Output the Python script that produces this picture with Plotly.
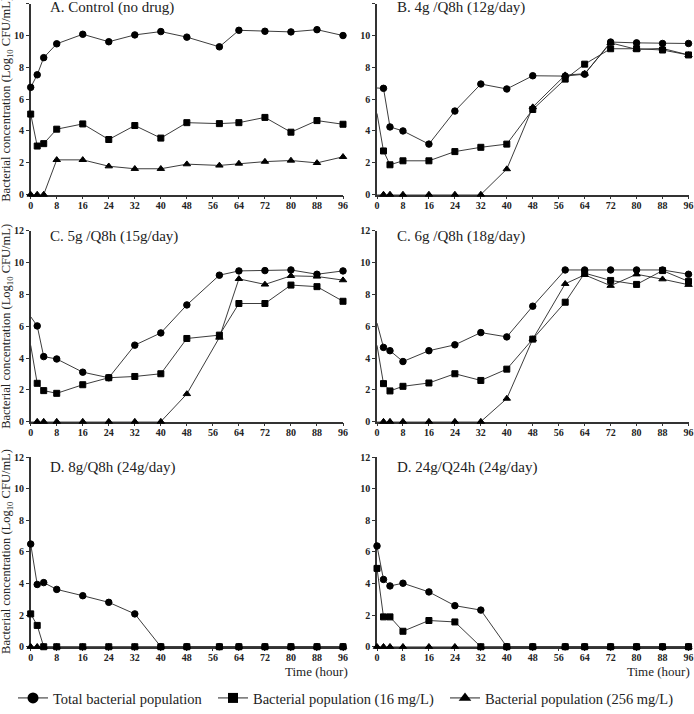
import plotly.graph_objects as go

# ---------------- data ----------------
times = [0, 2, 4, 8, 16, 24, 32, 40, 48, 58, 64, 72, 80, 88, 96]
x_ticks = [0, 8, 16, 24, 32, 40, 48, 56, 64, 72, 80, 88, 96]
y_ticks = [0, 2, 4, 6, 8, 10, 12]

panel_titles = ["A. Control (no drug)", "B. 4g /Q8h (12g/day)",
                "C. 5g /Q8h (15g/day)", "C. 6g /Q8h (18g/day)",
                "D. 8g/Q8h (24g/day)", "D. 24g/Q24h (24g/day)"]

series_names = ["Total bacterial population",
                "Bacterial population (16 mg/L)",
                "Bacterial population (256 mg/L)"]

# A. Control
a_total = [6.74, 7.53, 8.61, 9.48, 10.08, 9.61, 10.04, 10.25, 9.90, 9.29, 10.33, 10.27, 10.23, 10.37, 10.00]
a_16 = [5.06, 3.05, 3.20, 4.11, 4.44, 3.46, 4.34, 3.55, 4.52, 4.46, 4.52, 4.85, 3.92, 4.65, 4.42]
a_256 = [0, 0, 0, 2.18, 2.18, 1.78, 1.62, 1.62, 1.91, 1.83, 1.95, 2.07, 2.14, 1.99, 2.37]

# B. 4g/Q8h
b_total = [6.70, 6.68, 4.25, 4.00, 3.17, 5.25, 6.95, 6.64, 7.47, 7.45, 7.57, 9.59, 9.54, 9.50, 9.50]
b_16 = [5.10, 2.74, 1.87, 2.12, 2.12, 2.70, 2.97, 3.17, 5.35, 7.26, 8.20, 9.17, 9.17, 9.09, 8.78]
b_256 = [0, 0, 0, 0, 0, 0, 0, 1.60, 5.50, 7.51, 7.60, 9.54, 9.13, 9.19, 8.78]

# C. 5g/Q8h
c5_total = [6.60, 6.02, 4.09, 3.94, 3.11, 2.76, 4.81, 5.58, 7.34, 9.21, 9.48, 9.50, 9.54, 9.27, 9.48]
c5_16 = [4.80, 2.41, 1.95, 1.78, 2.32, 2.76, 2.84, 3.01, 5.23, 5.44, 7.43, 7.43, 8.59, 8.49, 7.57]
c5_256 = [0, 0, 0, 0, 0, 0, 0, 0, 1.74, 5.29, 8.98, 8.63, 9.17, 9.13, 8.90]

# C. 6g/Q8h
c6_total = [6.20, 4.67, 4.46, 3.78, 4.46, 4.83, 5.60, 5.33, 7.26, 9.54, 9.54, 9.54, 9.54, 9.54, 9.27]
c6_16 = [4.80, 2.39, 1.93, 2.22, 2.43, 3.01, 2.59, 3.30, 5.19, 7.51, 9.34, 8.88, 8.63, 9.50, 8.82]
c6_256 = [0, 0, 0, 0, 0, 0, 0, 1.45, 5.19, 8.67, 9.23, 8.55, 9.27, 8.96, 8.61]

# D. 8g/Q8h
d8_total = [6.50, 3.94, 4.06, 3.63, 3.23, 2.81, 2.08, 0, 0, 0, 0, 0, 0, 0, 0]
d8_16 = [2.08, 1.35, 0, 0, 0, 0, 0, 0, 0, 0, 0, 0, 0, 0, 0]
d8_256 = [0, 0, 0, 0, 0, 0, 0, 0, 0, 0, 0, 0, 0, 0, 0]

# D. 24g/Q24h
d24_total = [6.38, 4.26, 3.85, 4.02, 3.47, 2.60, 2.32, 0, 0, 0, 0, 0, 0, 0, 0]
d24_16 = [4.96, 1.89, 1.89, 0.98, 1.66, 1.57, 0, 0, 0, 0, 0, 0, 0, 0, 0]
d24_256 = [0, 0, 0, 0, 0, 0, 0, 0, 0, 0, 0, 0, 0, 0, 0]

panels = [(a_total, a_16, a_256), (b_total, b_16, b_256),
          (c5_total, c5_16, c5_256), (c6_total, c6_16, c6_256),
          (d8_total, d8_16, d8_256), (d24_total, d24_16, d24_256)]
show_first_marker = [True, False, False, False, True, True]

# ---------------- layout geometry (pixels) ----------------
W, H = 694, 714
col_px = [(30.7, 343.0), (377.0, 688.5)]
row_px = [(197.0, 3.8), (427.0, 233.8), (655.0, 463.0)]  # (y of 0, y of 12)
title_y_px = [8, 240, 473.5]
ytitle_y_px = [101, 331, 559]

FONT = "Liberation Serif"
LINE_C = "#262626"
MARK_C = "#000000"
AX_C = "#333333"

symbols = ["circle", "triangle-up", "square"]
sizes = [6.5, 6.5, 6]
leg_sizes = [11, 11, 10]
order = [0, 2, 1]  # draw total, then 256, then 16 (squares on top)
legends = ["legend", "legend3", "legend2"]

fig = go.Figure()

for p, data in enumerate(panels):
    n = p + 1
    xa = "x" if n == 1 else f"x{n}"
    ya = "y" if n == 1 else f"y{n}"
    for k, si in enumerate(order):
        vals = data[si]
        msz = [sizes[k]] * len(vals)
        mlw = [1.0] * len(vals)
        if not show_first_marker[p]:
            msz[0] = 0
            mlw[0] = 0
        fig.add_trace(go.Scatter(
            x=times, y=vals, xaxis=xa, yaxis=ya,
            mode="lines+markers",
            name=series_names[si],
            line=dict(color=LINE_C, width=0.9),
            marker=dict(symbol=symbols[k], size=msz, color=MARK_C,
                        opacity=1, line=dict(width=mlw, color=MARK_C)),
            cliponaxis=False,
            showlegend=False,
        ))

# legend-only entries
for k, si in enumerate(order):
    fig.add_trace(go.Scatter(
        x=[None], y=[None], mode="lines+markers", name=series_names[si],
        line=dict(color=LINE_C, width=1),
        marker=dict(symbol=symbols[k], size=leg_sizes[k], color=MARK_C,
                    line=dict(width=0)),
        showlegend=True, legend=legends[k],
    ))

layout = dict(
    width=W, height=H,
    margin=dict(l=0, r=0, t=0, b=0),
    paper_bgcolor="white", plot_bgcolor="white",
    font=dict(family=FONT, color="#222"),
    annotations=[],
)

for p in range(6):
    n = p + 1
    r, c = divmod(p, 2)
    x0, x1 = col_px[c]
    y0, y12 = row_px[r]
    xkey = "xaxis" if n == 1 else f"xaxis{n}"
    ykey = "yaxis" if n == 1 else f"yaxis{n}"
    layout[xkey] = dict(
        domain=[x0 / W, x1 / W], range=[0, 96],
        anchor="y" if n == 1 else f"y{n}",
        tickmode="array", tickvals=x_ticks, ticktext=[str(v) for v in x_ticks],
        showline=True, linecolor=AX_C, linewidth=1.5,
        ticks="outside", ticklen=3, tickwidth=1, tickcolor=AX_C,
        tickfont=dict(family=FONT, size=10, weight="bold", color="#222"),
        ticklabelstandoff=-2,
        showgrid=False, zeroline=False, automargin=False, layer="below traces",
    )
    layout[ykey] = dict(
        domain=[1 - y0 / H, 1 - y12 / H], range=[0, 12],
        anchor="x" if n == 1 else f"x{n}",
        tickmode="array", tickvals=y_ticks, ticktext=[str(v) for v in y_ticks],
        showline=True, linecolor=AX_C, linewidth=1.5,
        ticks="outside", ticklen=3, tickwidth=1, tickcolor=AX_C,
        tickfont=dict(family=FONT, size=10, weight="bold", color="#222"),
        showgrid=False, zeroline=False, automargin=False, layer="below traces",
    )
    # panel title
    layout["annotations"].append(dict(
        text=panel_titles[p], xref="paper", yref="paper",
        x=(48 if c == 0 else 395) / W, y=1 - title_y_px[r] / H,
        xanchor="left", yanchor="middle", showarrow=False,
        font=dict(family=FONT, size=15, color="#222"),
    ))

# y-axis titles (left column)
for r in range(3):
    layout["annotations"].append(dict(
        text="Bacterial concentration (Log<sub>10</sub> CFU/mL)",
        xref="paper", yref="paper", x=7 / W, y=1 - ytitle_y_px[r] / H,
        xanchor="center", yanchor="middle", textangle=-90, showarrow=False,
        font=dict(family=FONT, size=12.5, color="#222"),
    ))

# x-axis titles (bottom row)
for xr in (350, 692):
    layout["annotations"].append(dict(
        text="Time (hour)", xref="paper", yref="paper",
        x=xr / W, y=1 - 680 / H, xanchor="right", yanchor="middle",
        showarrow=False, font=dict(family=FONT, size=13, color="#222"),
    ))

leg_common = dict(orientation="h", yanchor="middle", y=1 - 707 / H,
                  xanchor="left", bgcolor="rgba(0,0,0,0)", borderwidth=0,
                  itemsizing="trace",
                  font=dict(family=FONT, size=14.5, color="#222"))
layout["legend"] = dict(leg_common, x=13 / W)
layout["legend2"] = dict(leg_common, x=213 / W)
layout["legend3"] = dict(leg_common, x=445 / W)

fig.update_layout(**layout)
fig.write_html("out.html",
               config={"displayModeBar": False},
               post_script="document.body.style.margin='0';"
                           "document.body.style.padding='0';"
                           "document.body.style.overflow='hidden';")
